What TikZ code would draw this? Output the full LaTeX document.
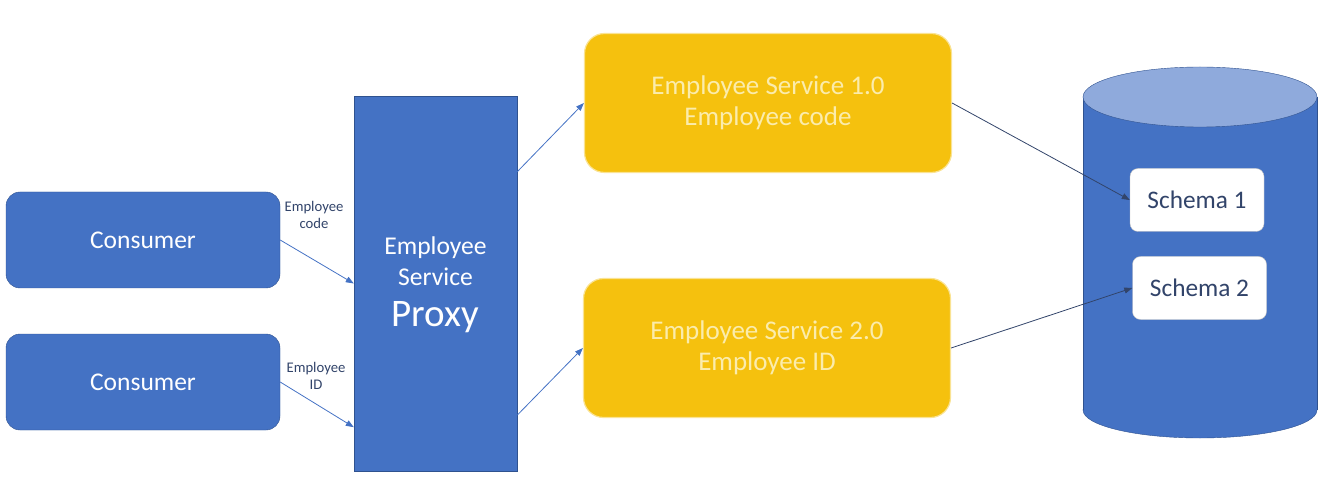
\documentclass[tikz,border=0pt]{standalone}
\usepackage{fontspec}
\setmainfont{Carlito}
\usetikzlibrary{calc}
\usetikzlibrary{arrows.meta}
\usetikzlibrary{positioning}
\definecolor{officeblue}{RGB}{68, 114, 196}
\definecolor{officenavy}{RGB}{47, 82, 143}
\definecolor{amber}{RGB}{245, 193, 14}
\definecolor{paleamber}{RGB}{251, 236, 172}
\definecolor{slateink}{RGB}{50, 68, 106}
\definecolor{cylcap}{RGB}{143, 170, 220}

\tikzset{
  consumerbox/.style={draw=officenavy, fill=officeblue, rounded corners=14pt, text=white,
                      minimum width=274pt, minimum height=96pt, inner sep=0pt,
                      font=\fontsize{25.5}{30}\selectfont},
  proxybox/.style={draw=officenavy, fill=officeblue, minimum width=163pt, minimum height=375pt,
                   inner sep=0pt},
  proxylabel/.style={text=white, align=center, font=\fontsize{25.6}{31}\selectfont},
  servicebox/.style={draw=amber!45, line width=1.2pt, fill=amber, rounded corners=20pt,
                     text=paleamber, align=center, minimum width=367pt, minimum height=139pt,
                     inner sep=0pt, text depth=5pt, font=\fontsize{27}{31}\selectfont},
  schemabox/.style={draw=black!25, fill=white, rounded corners=8pt, text=slateink,
                    minimum width=134pt, minimum height=63pt, inner sep=0pt,
                    font=\fontsize{25.3}{30}\selectfont},
  linelabel/.style={text=slateink, align=center, font=\fontsize{14.7}{17}\selectfont},
  bluelink/.style={officeblue, line width=0.8pt, -{Triangle[length=8pt, width=6pt]}},
  navylink/.style={slateink, line width=0.8pt, -{Triangle[length=8pt, width=6pt]}}
}

\begin{document}
\begin{tikzpicture}[x=1pt, y=-1pt]
            % Frame
            \useasboundingbox (0, 0) rectangle (1325, 486);
            % Consumers
            \node[consumerbox] (consumer1) at ( 143, 240) {Consumer};
            \node[consumerbox] (consumer2) at ( 143, 382) {Consumer};
            % Proxy
            \node[proxybox]    (proxy)     at (435.5, 283.5) {};
            \node[proxylabel]  (proxytext) at (435.5, 285)
                 {Employee\\ Service\\[10pt] {\fontsize{39}{40}\selectfont Proxy}};
            % Services
            \node[servicebox]  (service1)  at ( 768, 103) {Employee Service 1.0\\Employee code};
            \node[servicebox]  (service2)  at ( 767, 348) {Employee Service 2.0\\Employee ID};
            % Database
            \filldraw[officenavy, fill=officeblue] (1200, 410) ellipse [x radius=117, y radius=28];
            \fill[officeblue]                      (1083,  97) rectangle (1317, 410);
            \draw[officenavy]                      (1083,  97) -- (1083, 410);
            \draw[officenavy]                      (1317,  97) -- (1317, 410);
            \filldraw[officenavy, fill=cylcap]     (1200,  97) ellipse [x radius=117, y radius=30];
            \node[schemabox]   (schema1)   at (1197, 200) {Schema 1};
            \node[schemabox]   (schema2)   at (1199.5, 288) {Schema 2};
            % Labels
            \node[linelabel]   (codelabel) at ( 314, 215) {Employee\\code};
            \node[linelabel]   (idlabel)   at ( 316, 376) {Employee\\ID};
            % Links
            \draw[bluelink] (consumer1.east) -- (proxy.west);
            \draw[bluelink] (consumer2.east) -- ($(proxy.south west)+(0,-44)$);
            \draw[bluelink] ($(proxy.north east)+(0,76)$)  -- (service1.west);
            \draw[bluelink] ($(proxy.south east)+(0,-56)$) -- (service2.west);
            \draw[navylink] (service1.east) -- (schema1.west);
            \draw[navylink] (service2.east) -- (schema2.west);
        \end{tikzpicture}
\end{document}
